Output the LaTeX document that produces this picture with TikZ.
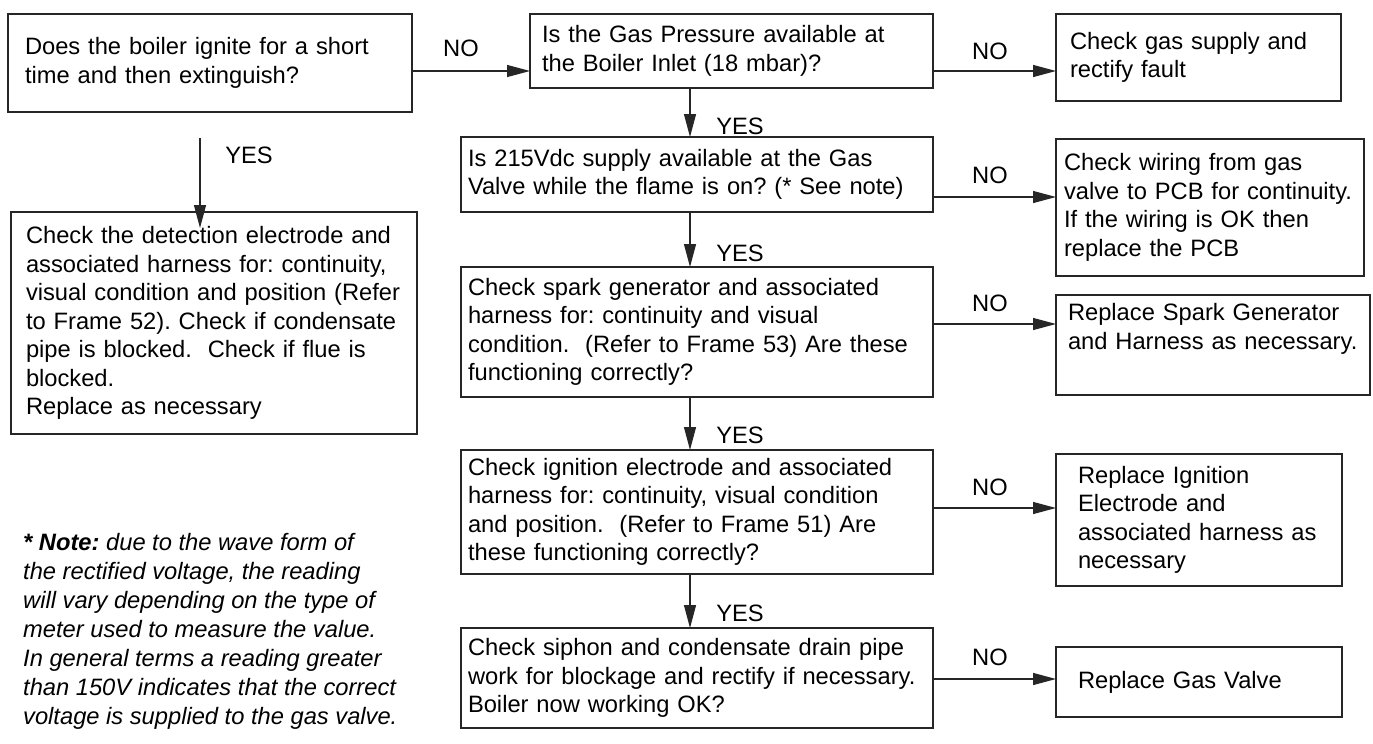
\documentclass[tikz,border=0pt]{standalone}
\usepackage{fontspec}
\setmainfont{Liberation Sans}
\usetikzlibrary{arrows.meta}
\newcommand\fcfont{\fontsize{23.7}{28.5}\selectfont\frenchspacing\hyphenpenalty=10000 }

\begin{document}
\begin{tikzpicture}[x=1pt,y=-1pt,
  fcbox/.style n args={4}{draw=black!85, line width=1.2pt, outer sep=0pt,
    anchor=north west, minimum width=#1, minimum height=#2,
    inner xsep=#3, inner ysep=0pt, text width=#4, align=left, font=\fcfont},
  fclabel/.style={font=\fcfont, inner sep=0pt},
  fcarrow/.style={-{Triangle[length=23pt,width=12pt]}, line width=1.2pt, draw=black!85}]%
% boiler ignites then goes out -- fault finding chart
\ifx\fclw\undefined\newdimen\fclw\fi
\global\def\fcdraw{\draw[line width=\fclw]}
\fclw=1.2bp
\useasboundingbox (0,0) rectangle (1373,744);
\node[fcbox={404pt}{98pt}{17pt}{370pt}] (qignite) at (8,14)
 {Does the boiler ignite for a short\\time and then extinguish?};
\node[fcbox={403pt}{74pt}{12pt}{379pt}] (qpressure) at (530,14)
 {Is the Gas Pressure available at\\the Boiler Inlet (18 mbar)?};
\node[fcbox={285pt}{87pt}{14pt}{257pt}] (fixgas) at (1056,14)
 {Check gas supply and\\rectify fault};
\node[fcbox={406pt}{222pt}{15pt}{376pt}] (fixdetect) at (11,212)
 {Check the detection electrode and\\associated harness for: continuity,\\visual condition and position (Refer\\to Frame 52). Check if condensate\\pipe is blocked.\ \ Check if flue is\\blocked.\\Replace as necessary};
\node[fcbox={472pt}{75pt}{7pt}{458pt}] (qsupply) at (461,137)
 {Is 215Vdc supply available at the Gas\\Valve while the flame is on? (* See note)};
\node[fcbox={308pt}{137pt}{8pt}{292pt}] (fixwiring) at (1056,139)
 {Check wiring from gas\\valve to PCB for continuity.\\If the wiring is OK then\\replace the PCB};
\node[fcbox={472pt}{130pt}{7pt}{458pt}] (qspark) at (461,267)
 {Check spark generator and associated\\harness for: continuity and visual\\condition.\ \ (Refer to Frame 53) Are these\\functioning correctly?};
\node[fcbox={314pt}{100pt}{12pt}{290pt}] (fixspark) at (1056,295)
 {Replace Spark Generator\\and Harness as necessary.\\\strut};
\node[fcbox={472pt}{124pt}{7pt}{458pt}] (qignition) at (461,450)
 {Check ignition electrode and associated\\harness for: continuity, visual condition\\and position.\ \ (Refer to Frame 51) Are\\these functioning correctly?};
\node[fcbox={286pt}{132pt}{22pt}{242pt}] (fixignition) at (1056,454)
 {Replace Ignition\\Electrode and\\associated harness as\\necessary};
\node[fcbox={472pt}{100pt}{7pt}{458pt}] (qdrain) at (461,628)
 {Check siphon and condensate drain pipe\\work for blockage and rectify if necessary.\\Boiler now working OK?};
\node[fcbox={286pt}{70pt}{22pt}{242pt}] (fixvalve) at (1056,647)
 {Replace Gas Valve};
\node[fclabel, anchor=west, align=left, font=\fontsize{23.7}{29}\selectfont\frenchspacing\itshape] (note) at (23,631)
 {\textbf{* Note:} due to the wave form of\\the rectified voltage, the reading\\will vary depending on the type of\\meter used to measure the value.\\In general terms a reading greater\\than 150V indicates that the correct\\voltage is supplied to the gas valve.};
% connector rows and columns
\coordinate (spine) at (690,0);
\coordinate (rowa) at (0,71);
\coordinate (rowb) at (0,71);
\coordinate (rowc) at (0,197);
\coordinate (rowd) at (0,324);
\coordinate (rowe) at (0,508);
\coordinate (rowf) at (0,679);
\coordinate (yesfrom) at (200,138);
\fcdraw[fcarrow] (qignite.east |- rowa) -- (qpressure.west |- rowa);
\fcdraw[fcarrow] (qpressure.east |- rowb) -- (fixgas.west |- rowb);
\fcdraw[fcarrow] (qsupply.east |- rowc) -- (fixwiring.west |- rowc);
\fcdraw[fcarrow] (qspark.east |- rowd) -- (fixspark.west |- rowd);
\fcdraw[fcarrow] (qignition.east |- rowe) -- (fixignition.west |- rowe);
\fcdraw[fcarrow] (qdrain.east |- rowf) -- (fixvalve.west |- rowf);
\fcdraw[fcarrow] (qpressure.south -| spine) -- (qsupply.north -| spine);
\fcdraw[fcarrow] (qsupply.south -| spine) -- (qspark.north -| spine);
\fcdraw[fcarrow] (qspark.south -| spine) -- (qignition.north -| spine);
\fcdraw[fcarrow] (qignition.south -| spine) -- (qdrain.north -| spine);
\fcdraw[fcarrow, shorten >=-16pt] (yesfrom) -- (fixdetect.north -| yesfrom);
\node[fclabel] (no1) at (461,48) {NO};
\node[fclabel] (no2) at (990,51) {NO};
\node[fclabel] (no3) at (990,175) {NO};
\node[fclabel] (no4) at (990,303) {NO};
\node[fclabel] (no5) at (990,487) {NO};
\node[fclabel] (no6) at (990,657) {NO};
\node[fclabel] (yes1) at (249,155) {YES};
\node[fclabel] (yes2) at (740,126) {YES};
\node[fclabel] (yes3) at (740,253) {YES};
\node[fclabel] (yes4) at (740,435) {YES};
\node[fclabel] (yes5) at (740,613) {YES};
\end{tikzpicture}
\end{document}
